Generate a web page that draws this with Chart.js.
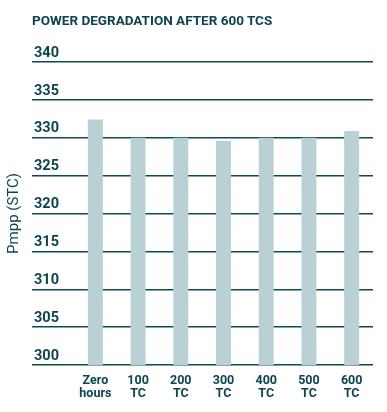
<!DOCTYPE html>
<html>
<head>
<meta charset="utf-8">
<script src="https://cdn.jsdelivr.net/npm/chart.js@4"></script>
<style>
  body { margin: 0; background: #fff; }
  #wrap { position: relative; width: 387px; height: 412px; }
  #title {
    position: absolute; left: 32px; top: 12px;
    font: bold 13.5px Roboto, sans-serif; color: #0c4450; letter-spacing: 0;
  }
</style>
</head>
<body>
<div id="wrap">
  <div id="title">POWER DEGRADATION AFTER 600 TCS</div>
  <canvas id="chart" width="387" height="412"></canvas>
</div>
<script>
// values
var categories = [["Zero", "hours"], ["100", "TC"], ["200", "TC"], ["300", "TC"], ["400", "TC"], ["500", "TC"], ["600", "TC"]];
var pmpp = [332.4, 330.0, 330.0, 329.6, 330.0, 330.0, 330.9];
var yMin = 300;
var yMax = 340;
var yStep = 5;

var dark = "#0c4450";
var lineColor = "#0d4b53";

const config = {
  type: "bar",
  data: {
    labels: categories,
    datasets: [
      {
        data: pmpp,
        backgroundColor: "#b9d1d5",
        borderWidth: 0,
        barPercentage: 0.35,
        categoryPercentage: 1,
      },
    ],
  },
  options: {
    responsive: false,
    animation: false,
    layout: { padding: { top: 62, right: 14, left: 0, bottom: 0 } },
    plugins: { legend: { display: false }, tooltip: { enabled: false } },
    scales: {
      x: {
        grid: { display: false },
        border: { display: false },
        ticks: {
          color: dark,
          font: { family: "Roboto", weight: "bold", size: 12.5, lineHeight: 1.05 },
          padding: 1,
          maxRotation: 0,
          autoSkip: false,
        },
        afterFit: function (s) { s.height = 47; },
      },
      y: {
        min: yMin,
        max: yMax,
        border: { display: false },
        grid: { color: lineColor, lineWidth: 1.5, tickLength: 42 },
        ticks: {
          stepSize: yStep,
          color: dark,
          font: { family: "Roboto", weight: "bold", size: 14.5 },
          crossAlign: "near",
          padding: -27,
          labelOffset: -9,
        },
        title: {
          display: true,
          text: "Pmpp (STC)",
          color: dark,
          font: { family: "Roboto", size: 15 },
          padding: { top: 5, bottom: 0 },
        },
        afterFit: function (s) { s.width = 74; },
      },
    },
  },
};

_ = new Chart(document.getElementById("chart"), config);
</script>
</body>
</html>
